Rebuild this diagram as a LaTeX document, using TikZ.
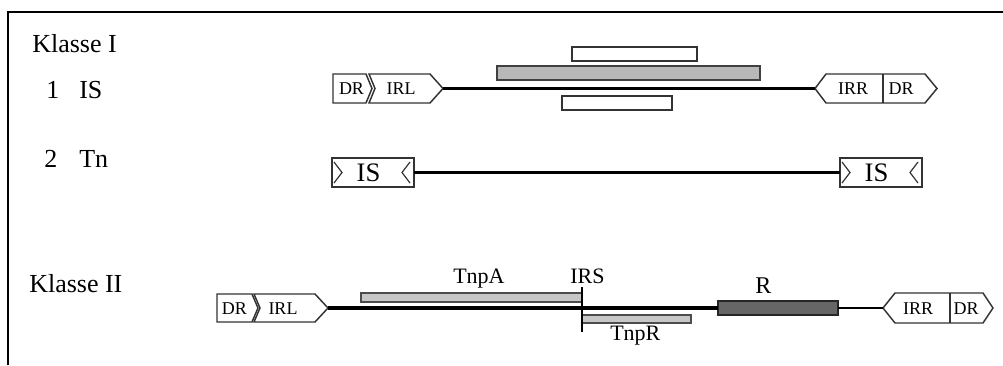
\documentclass[tikz,border=0pt]{standalone}
\usepackage{fontspec}
\setmainfont{Liberation Serif}
\begin{document}
\begin{tikzpicture}[x=0.75pt,y=-0.75pt,
  box/.style={draw=black!80,line width=1.1pt,fill=white,line join=miter},
  dna/.style={line width=2.7pt,black},
  dnathin/.style={line width=2.1pt,black},
  title/.style={font=\fontsize{19.5pt}{22pt}\selectfont,text=black,inner sep=0,anchor=base west},
  lbl/.style={font=\fontsize{13.5pt}{15pt}\selectfont,text=black,inner sep=0,anchor=center},
  gene/.style={font=\fontsize{16.5pt}{18pt}\selectfont,text=black,inner sep=0,anchor=base west},
  islbl/.style={font=\fontsize{20pt}{22pt}\selectfont,text=black,inner sep=0,anchor=center},
  chev/.style={draw=black!80,line width=0.9pt},
  wbar/.style={draw=black!80,line width=1.1pt,fill=white},
  gbar/.style={draw=black!75,line width=1.1pt,fill=black!28},
  tbar/.style={draw=black!70,line width=1.1pt,fill=black!22},
  rbar/.style={draw=black!85,line width=1.3pt,fill=black!60}]
\useasboundingbox (0,0) rectangle (1003,365);
\fill[white] (0,0) rectangle (1003,365);
% frame
\draw[line width=1.5pt,black] (8,365) -- (8,12) -- (1003,12);

% titles
\node[title] (k1) at (32,52) {Klasse I};
\node[title] (n1) at (46,98) {1};
\node[title] (is1) at (79,98) {IS};
\node[title] (n2) at (44,167) {2};
\node[title] (tn) at (79,167) {Tn};
\node[title] (k2) at (29,292) {Klasse II};

% ---------- Row 1: IS ----------
\draw[box] (333,74) -- (366,74) -- (372,88.5) -- (366,103) -- (333,103) -- cycle;
\draw[box] (369,74) -- (430,74) -- (443,88.5) -- (430,103) -- (369,103) -- (375,88.5) -- cycle;
\coordinate (irlA) at (443,88.5);
\node[lbl] (drA) at (351.5,89) {DR};
\node[lbl] (irlAt) at (401,89) {IRL};
\draw[box] (815,88.5) -- (826,74) -- (925,74) -- (937,88.5) -- (925,103) -- (826,103) -- cycle;
\draw[draw=black!80,line width=1.1pt] (883,74) -- (883,103);
\coordinate (irrA) at (815,88.5);
\node[lbl] (irrAt) at (853,89) {IRR};
\node[lbl] (drA2) at (901,89) {DR};
\draw[dna] (irlA) -- (irrA);
\draw[wbar] (572,47) rectangle (697,61);
\draw[gbar] (497,66) rectangle (760,80);
\draw[wbar] (562,96) rectangle (672,110);

% ---------- Row 2: Tn ----------
\draw[box] (332,158) rectangle (414,187);
\coordinate (isLe) at (414,172.5);
\draw[chev] (334,162) -- (342,172.5) -- (334,183);
\draw[chev] (410,162) -- (402,172.5) -- (410,183);
\node[islbl] (isLt) at (368.5,173) {IS};
\draw[box] (840,158) rectangle (922,187);
\coordinate (isRw) at (840,172.5);
\draw[chev] (842,162) -- (850,172.5) -- (842,183);
\draw[chev] (918,162) -- (910,172.5) -- (918,183);
\node[islbl] (isRt) at (876.5,173) {IS};
\draw[dna] (isLe) -- (isRw);

% ---------- Row 3: Klasse II ----------
\draw[box] (217,294) -- (252,294) -- (258,308) -- (252,322) -- (217,322) -- cycle;
\draw[box] (254,294) -- (315,294) -- (328,308) -- (315,322) -- (254,322) -- (260,308) -- cycle;
\coordinate (irlB) at (328,308);
\node[lbl] (drB) at (234.5,308.5) {DR};
\node[lbl] (irlBt) at (283,308.5) {IRL};
\draw[box] (883,308) -- (895,293) -- (983,293) -- (993,308) -- (983,323) -- (895,323) -- cycle;
\draw[draw=black!80,line width=1.1pt] (950,293) -- (950,323);
\coordinate (irrB) at (883,308);
\node[lbl] (irrBt) at (918,309) {IRR};
\node[lbl] (drB2) at (966,309) {DR};
\draw[rbar] (718,301) rectangle (838,315);
\coordinate (rW) at (718,308);
\coordinate (rE) at (838,308);
\draw[dna] (irlB) -- (rW);
\draw[dnathin] (rE) -- (irrB);
\draw[tbar] (361,293) rectangle (582,302);
\draw[tbar] (582,315) rectangle (691,323);
\draw[line width=1.1pt,black] (582,287) -- (582,332);
\node[gene] (tnpA) at (453,283) {TnpA};
\node[gene] (irs) at (570,283) {IRS};
\node[gene] (tnpR) at (610,340) {TnpR};
\node[gene,font=\fontsize{18pt}{20pt}\selectfont] (r) at (755,293) {R};
\end{tikzpicture}
\end{document}
